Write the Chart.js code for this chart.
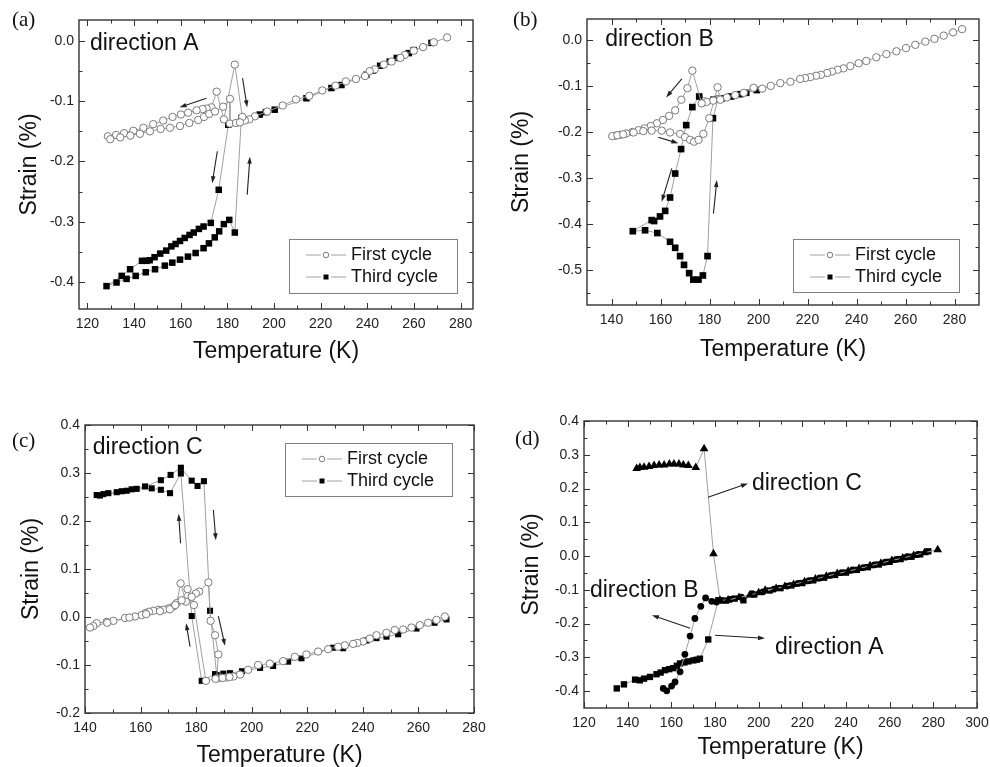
<!DOCTYPE html>
<html>
<head>
<meta charset="utf-8">
<script src="https://cdn.jsdelivr.net/npm/chart.js@4.4.0/dist/chart.umd.min.js"></script>
<style>
  html, body { margin: 0; padding: 0; background: #fff; }
  body { width: 990px; height: 767px; position: relative; overflow: hidden; }
  canvas { position: absolute; }
  .tag { position: absolute; font: 21px "Liberation Serif", "Times New Roman", serif; line-height: 1; color: #111; }
</style>
</head>
<body>
<canvas id="chartA" width="490" height="370" style="left:0;top:0"></canvas>
<canvas id="chartB" width="495" height="370" style="left:495px;top:0"></canvas>
<canvas id="chartC" width="490" height="387" style="left:0;top:380px"></canvas>
<canvas id="chartD" width="495" height="387" style="left:495px;top:380px"></canvas>
<div class="tag" style="left:12px;top:9px">(a)</div>
<div class="tag" style="left:513px;top:9px">(b)</div>
<div class="tag" style="left:12px;top:430px">(c)</div>
<div class="tag" style="left:515px;top:428px">(d)</div>
<script>
// ---- (a) direction A ----
const tempA1 = [274.2, 268.5, 263.9, 259.9, 256.1, 254.2, 250.4, 247.1, 243.2, 241.0,
  239.0, 235.1, 230.8, 226.4, 220.7, 215.1, 209.4, 203.7, 197.1, 191.8,
  189.4, 187.5, 186.4, 183.2, 178.5, 175.4, 173.2, 171.1, 169.4, 166.8,
  163.2, 160.1, 156.5, 152.5, 148.2, 144.0, 139.7, 135.7, 132.3, 128.8,
  129.8, 134.1, 138.4, 142.5, 146.8, 151.4, 155.4, 159.7, 163.7, 167.5,
  170.0, 172.2, 174.7, 178.2, 181.1, 181.1, 183.7, 185.4];
const strainA1 = [0.006, -0.002, -0.010, -0.016, -0.023, -0.028, -0.034, -0.039, -0.047, -0.050,
  -0.058, -0.063, -0.067, -0.074, -0.082, -0.091, -0.097, -0.107, -0.117, -0.125,
  -0.130, -0.132, -0.126, -0.039, -0.130, -0.084, -0.110, -0.112, -0.113, -0.115,
  -0.119, -0.122, -0.126, -0.132, -0.138, -0.144, -0.149, -0.153, -0.156, -0.158,
  -0.163, -0.160, -0.157, -0.154, -0.150, -0.146, -0.144, -0.141, -0.136, -0.131,
  -0.126, -0.121, -0.117, -0.109, -0.096, -0.137, -0.136, -0.135];
const tempA3 = [267.5, 259.9, 257.8, 252.6, 249.6, 245.5, 242.4, 239.6, 228.9, 224.6,
  213.9, 200.3, 196.5, 193.9, 180.4, 176.3, 172.9, 169.8, 167.8, 165.6,
  163.8, 161.7, 159.7, 157.8, 156.0, 153.8, 151.2, 148.8, 146.7, 145.3,
  143.4, 138.3, 134.7, 128.2, 132.5, 136.8, 140.7, 145.0, 149.0, 153.2,
  156.4, 159.7, 163.1, 166.4, 169.8, 172.1, 174.6, 176.5, 178.5, 180.8,
  183.2, 186.0];
const strainA3 = [-0.003, -0.015, -0.020, -0.028, -0.034, -0.041, -0.049, -0.056, -0.073, -0.078,
  -0.095, -0.114, -0.118, -0.122, -0.139, -0.247, -0.302, -0.308, -0.312, -0.318,
  -0.322, -0.327, -0.332, -0.337, -0.341, -0.348, -0.353, -0.359, -0.364, -0.365,
  -0.365, -0.379, -0.390, -0.407, -0.401, -0.395, -0.390, -0.384, -0.379, -0.373,
  -0.368, -0.363, -0.358, -0.352, -0.344, -0.336, -0.326, -0.316, -0.304, -0.297,
  -0.318, -0.128];

// ---- (b) direction B ----
const tempB1 = [283.1, 279.4, 275.6, 271.8, 268.1, 264.0, 260.2, 256.3, 252.2, 248.1,
  244.0, 240.9, 237.5, 234.7, 232.3, 230.0, 228.0, 225.5, 223.5, 221.1,
  219.0, 217.0, 213.0, 208.9, 205.0, 201.5, 198.0, 194.0, 190.5, 187.1,
  184.0, 181.5, 178.8, 176.8, 173.0, 171.0, 168.5, 166.0, 163.5, 161.0,
  158.5, 156.0, 153.5, 151.0, 148.5, 146.0, 143.5, 141.5, 140.3, 142.4,
  144.8, 149.0, 153.0, 156.4, 160.5, 163.9, 168.0, 170.0, 172.1, 173.7,
  175.5, 177.5, 179.9, 183.3, 184.4];
const strainB1 = [0.023, 0.016, 0.009, 0.002, -0.004, -0.011, -0.018, -0.025, -0.031, -0.038,
  -0.046, -0.051, -0.057, -0.062, -0.065, -0.069, -0.072, -0.076, -0.078, -0.081,
  -0.083, -0.085, -0.091, -0.094, -0.100, -0.106, -0.104, -0.115, -0.120, -0.125,
  -0.128, -0.132, -0.135, -0.138, -0.067, -0.105, -0.130, -0.153, -0.165, -0.174,
  -0.181, -0.187, -0.192, -0.196, -0.200, -0.203, -0.206, -0.208, -0.209, -0.207,
  -0.205, -0.201, -0.198, -0.197, -0.197, -0.201, -0.204, -0.211, -0.217, -0.221,
  -0.217, -0.204, -0.170, -0.103, -0.130];
const tempB3 = [199.3, 195.0, 192.5, 188.8, 185.0, 181.6, 175.8, 173.0, 170.5, 168.4,
  166.0, 163.9, 161.9, 159.8, 157.4, 156.4, 148.7, 153.7, 158.7, 163.9,
  166.0, 168.0, 169.6, 171.7, 173.4, 175.5, 177.3, 179.2, 181.4, 183.5];
const strainB3 = [-0.109, -0.115, -0.118, -0.123, -0.127, -0.130, -0.123, -0.146, -0.185, -0.237,
  -0.290, -0.342, -0.371, -0.383, -0.393, -0.391, -0.415, -0.413, -0.419, -0.438,
  -0.451, -0.469, -0.488, -0.506, -0.520, -0.520, -0.511, -0.469, -0.170, -0.128];

// ---- (c) direction C ----
const tempC1 = [269.5, 266.5, 263.5, 260.5, 257.5, 254.5, 251.5, 248.5, 244.9, 242.5,
  240.1, 238.0, 236.5, 233.5, 231.1, 227.5, 223.9, 219.7, 215.5, 211.3,
  206.5, 202.3, 198.7, 195.8, 193.4, 191.0, 189.0, 187.4, 188.0, 186.8,
  185.2, 184.4, 181.1, 179.9, 178.4, 176.3, 174.4, 173.0, 171.8, 170.0,
  168.2, 166.4, 164.6, 163.0, 161.7, 160.4, 158.0, 154.4, 150.2, 147.8,
  144.2, 143.0, 141.8, 148.0, 156.0, 162.0, 167.0, 170.5, 172.5, 174.8,
  176.9, 179.2, 183.5, 187.0, 189.5, 192.0];
const strainC1 = [0.001, -0.006, -0.012, -0.017, -0.022, -0.026, -0.027, -0.033, -0.038, -0.045,
  -0.051, -0.054, -0.056, -0.059, -0.062, -0.067, -0.072, -0.078, -0.083, -0.092,
  -0.097, -0.100, -0.110, -0.120, -0.124, -0.126, -0.127, -0.128, -0.078, -0.038,
  -0.008, 0.072, 0.053, 0.049, 0.042, 0.032, 0.070, 0.029, 0.022, 0.018,
  0.015, 0.015, 0.013, 0.011, 0.008, 0.004, 0.001, -0.002, -0.008, -0.010,
  -0.013, -0.019, -0.022, -0.012, -0.001, 0.006, 0.012, 0.016, 0.025, 0.035,
  0.058, 0.025, -0.133, -0.129, -0.127, -0.125];
const tempC3 = [270.1, 265.8, 259.3, 252.7, 248.5, 244.9, 241.3, 237.1, 232.9, 229.3,
  217.9, 213.1, 207.7, 203.0, 196.5, 192.2, 189.8, 187.4, 185.0, 182.8,
  180.5, 178.4, 174.5, 170.8, 167.3, 161.6, 158.6, 155.0, 151.4, 148.4,
  146.6, 144.2, 145.4, 153.2, 156.8, 164.0, 167.3, 170.6, 174.5, 178.4,
  182.0, 186.8];
const strainC3 = [-0.005, -0.012, -0.024, -0.036, -0.041, -0.044, -0.049, -0.055, -0.065, -0.064,
  -0.086, -0.093, -0.102, -0.106, -0.113, -0.117, -0.118, -0.121, 0.013, 0.283,
  0.273, 0.284, 0.311, 0.296, 0.285, 0.272, 0.267, 0.263, 0.260, 0.258,
  0.256, 0.254, 0.253, 0.262, 0.266, 0.268, 0.265, 0.258, 0.299, 0.002,
  -0.133, -0.119];

// ---- (d) all three directions ----
const tempDC = [144.1, 145.6, 147.5, 149.8, 152.1, 154.4, 156.7, 159.1, 161.2, 163.5,
  165.5, 167.8, 171.2, 175.0, 179.3, 182.3, 186, 191, 196, 200,
  203, 208, 212, 216, 221, 226, 231, 236, 241, 246,
  251, 256, 261, 266, 271, 276, 282];
const strainDC = [0.259, 0.262, 0.263, 0.265, 0.268, 0.270, 0.270, 0.273, 0.273, 0.273,
  0.270, 0.268, 0.262, 0.318, 0.007, -0.131, -0.130, -0.123, -0.115, -0.109,
  -0.101, -0.096, -0.090, -0.084, -0.076, -0.068, -0.060, -0.052, -0.045, -0.037,
  -0.029, -0.021, -0.013, -0.006, 0.002, 0.010, 0.019];
const tempDB = [156.3, 157.9, 160.1, 161.7, 164.0, 166.2, 168.6, 170.8, 173.5, 175.7,
  178.5, 180.7, 183, 187, 192, 197, 202, 207, 213, 218,
  223, 228, 233, 238, 243, 248, 253, 258, 263, 268, 273];
const strainDB = [-0.392, -0.399, -0.385, -0.373, -0.343, -0.291, -0.237, -0.185, -0.149, -0.124,
  -0.134, -0.136, -0.131, -0.128, -0.122, -0.111, -0.106, -0.098, -0.089, -0.081,
  -0.073, -0.065, -0.057, -0.049, -0.041, -0.034, -0.026, -0.018, -0.010, -0.002, 0.005];
const tempDA = [135.0, 138.3, 143.4, 145.6, 147.5, 150.2, 153.2, 155.1, 157.1, 159.0,
  160.9, 162.5, 164.0, 166.0, 167.8, 170.1, 171.6, 173.1, 176.9, 181.5,
  185, 189, 193, 198, 205, 210, 215, 220, 225, 230,
  235, 240, 245, 250, 255, 260, 265, 270, 274, 277.7];
const strainDA = [-0.392, -0.380, -0.366, -0.368, -0.363, -0.358, -0.350, -0.345, -0.338, -0.335,
  -0.332, -0.325, -0.318, -0.315, -0.312, -0.309, -0.307, -0.304, -0.247, -0.131,
  -0.132, -0.126, -0.131, -0.114, -0.102, -0.095, -0.087, -0.080, -0.072, -0.064,
  -0.056, -0.049, -0.041, -0.033, -0.025, -0.017, -0.009, -0.002, 0.005, 0.014];

// tick labels
const tempTicksA = [120, 140, 160, 180, 200, 220, 240, 260, 280];
const strainTicksA = [0, -0.1, -0.2, -0.3, -0.4];
const tempTicksB = [140, 160, 180, 200, 220, 240, 260, 280];
const strainTicksB = [0, -0.1, -0.2, -0.3, -0.4, -0.5];
const tempTicksC = [140, 160, 180, 200, 220, 240, 260, 280];
const strainTicksC = [0.4, 0.3, 0.2, 0.1, 0, -0.1, -0.2];
const tempTicksD = [120, 140, 160, 180, 200, 220, 240, 260, 280, 300];
const strainTicksD = [0.4, 0.3, 0.2, 0.1, 0, -0.1, -0.2, -0.3, -0.4];

Chart.defaults.font.family = '"Liberation Sans", Arial, sans-serif';
const FONT = '"Liberation Sans", Arial, sans-serif';

function series(label, temps, strains, style) {
    return {
        label,
        data: temps.map((t, i) => ({ x: t, y: strains[i] })),
        showLine: true,
        borderColor: "#a0a0a0",
        borderWidth: 1,
        tension: 0,
        ...style
    };
}

const openCircle = { pointStyle: "circle", pointRadius: 3.7, pointBackgroundColor: "#fff", pointBorderColor: "#7a7a7a", pointBorderWidth: 1 };
const blackSquare = (r) => ({ pointStyle: "rect", pointRadius: r, pointBackgroundColor: "#000", pointBorderColor: "#000", pointBorderWidth: 0 });
const blackCircle = { pointStyle: "circle", pointRadius: 3.4, pointBackgroundColor: "#000", pointBorderColor: "#000", pointBorderWidth: 0 };
const blackTriangle = { pointStyle: "triangle", pointRadius: 5, pointBackgroundColor: "#000", pointBorderColor: "#000", pointBorderWidth: 0 };

// frame, inward ticks, arrows, notes and boxed legend
const decor = {
    id: "decor",
    afterDraw(chart, args, o) {
        const { ctx, chartArea: a, scales: { x, y } } = chart;
        ctx.save();
        ctx.strokeStyle = "#333";
        ctx.lineWidth = 1.4;
        ctx.strokeRect(a.left, a.top, a.right - a.left, a.bottom - a.top);

        ctx.lineWidth = 1;
        [[x, true], [y, false]].forEach(([scale, horiz]) => {
            const major = scale.ticks.map(t => t.value);
            const step = major[1] - major[0];
            const lo = Math.min(scale.min, scale.max), hi = Math.max(scale.min, scale.max);
            const minor = [major[0] - step / 2, ...major.map(v => v + step / 2)]
                .filter(v => v > lo + 1e-9 && v < hi - 1e-9);
            const marks = major.map(v => [v, 6]).concat(minor.map(v => [v, 3.5]));
            ctx.beginPath();
            marks.forEach(([v, len]) => {
                const p = Math.round(scale.getPixelForValue(v)) + 0.5;
                if (horiz) {
                    ctx.moveTo(p, a.bottom); ctx.lineTo(p, a.bottom - len);
                    ctx.moveTo(p, a.top); ctx.lineTo(p, a.top + len);
                } else {
                    ctx.moveTo(a.left, p); ctx.lineTo(a.left + len, p);
                    ctx.moveTo(a.right, p); ctx.lineTo(a.right - len, p);
                }
            });
            ctx.stroke();
        });

        ctx.strokeStyle = "#222";
        ctx.fillStyle = "#222";
        ctx.lineWidth = 1.1;
        (o.arrows || []).forEach(([t0, s0, t1, s1]) => {
            const x0 = x.getPixelForValue(t0), y0 = y.getPixelForValue(s0);
            const x1 = x.getPixelForValue(t1), y1 = y.getPixelForValue(s1);
            const ang = Math.atan2(y1 - y0, x1 - x0);
            const c = Math.cos(ang), s = Math.sin(ang);
            ctx.beginPath();
            ctx.moveTo(x0, y0);
            ctx.lineTo(x1 - 5 * c, y1 - 5 * s);
            ctx.stroke();
            ctx.beginPath();
            ctx.moveTo(x1, y1);
            ctx.lineTo(x1 - 7 * c - 2.3 * s, y1 - 7 * s + 2.3 * c);
            ctx.lineTo(x1 - 7 * c + 2.3 * s, y1 - 7 * s - 2.3 * c);
            ctx.closePath();
            ctx.fill();
        });

        ctx.fillStyle = "#111";
        ctx.font = "23px " + FONT;
        ctx.textAlign = "left";
        ctx.textBaseline = "middle";
        (o.notes || []).forEach(n => {
            ctx.fillText(n.text, x.getPixelForValue(n.t), y.getPixelForValue(n.s));
        });

        const L = o.legend;
        if (L) {
            ctx.strokeStyle = "#808080";
            ctx.lineWidth = 1;
            ctx.strokeRect(L.x + 0.5, L.y + 0.5, L.w, L.h);
            ctx.font = "18px " + FONT;
            chart.data.datasets.forEach((ds, i) => {
                const ry = L.y + 16 + i * 22;
                const mx = L.x + 37;
                ctx.strokeStyle = "#a0a0a0";
                ctx.beginPath();
                ctx.moveTo(L.x + 17, ry); ctx.lineTo(mx - 5, ry);
                ctx.moveTo(mx + 5, ry); ctx.lineTo(L.x + 57, ry);
                ctx.stroke();
                if (ds.pointStyle === "rect") {
                    ctx.fillStyle = "#000";
                    ctx.fillRect(mx - 2.5, ry - 2.5, 5, 5);
                } else {
                    ctx.fillStyle = "#fff";
                    ctx.strokeStyle = "#7a7a7a";
                    ctx.beginPath();
                    ctx.arc(mx, ry, 2.8, 0, 2 * Math.PI);
                    ctx.fill();
                    ctx.stroke();
                }
                ctx.fillStyle = "#111";
                ctx.fillText(ds.label, L.x + 62, ry);
            });
        }
        ctx.restore();
    }
};

function strainChart(id, datasets, ax, extras) {
    const ctx = document.getElementById(id).getContext("2d");
    return new Chart(ctx, {
        type: "scatter",
        data: { datasets },
        options: {
            responsive: false,
            animation: false,
            events: [],
            layout: { padding: ax.pad },
            plugins: { legend: { display: false }, tooltip: { enabled: false }, decor: extras },
            scales: {
                x: {
                    type: "linear",
                    min: ax.xMin,
                    max: ax.xMax,
                    afterBuildTicks: s => { s.ticks = ax.xTicks.map(v => ({ value: v })); },
                    // fixed height, and no extra room for edge labels
                    afterFit: s => { s.height = ax.xH; s.paddingLeft = 0; s.paddingRight = 0; },
                    grid: { display: false, drawTicks: false },
                    border: { display: false },
                    ticks: { padding: 7, color: "#222", font: { size: 14 }, autoSkip: false, maxRotation: 0, callback: v => String(v) },
                    title: { display: true, text: "Temperature (K)", color: "#111", font: { size: 23, lineHeight: 1 }, padding: { top: 0, bottom: ax.xtPad } }
                },
                y: {
                    type: "linear",
                    min: ax.yMin,
                    max: ax.yMax,
                    afterBuildTicks: s => { s.ticks = ax.yTicks.map(v => ({ value: v })); },
                    afterFit: s => { s.width = ax.yW; s.paddingTop = 0; s.paddingBottom = 0; },
                    grid: { display: false, drawTicks: false },
                    border: { display: false },
                    ticks: { padding: 5, color: "#222", font: { size: 14 }, autoSkip: false, callback: v => v.toFixed(1) },
                    title: { display: true, text: "Strain (%)", color: "#111", font: { size: 23, lineHeight: 1 }, padding: { top: ax.ytPad, bottom: 0 } }
                }
            }
        },
        plugins: [decor]
    });
}

strainChart("chartA", [
    series("First cycle", tempA1, strainA1, openCircle),
    series("Third cycle", tempA3, strainA3, blackSquare(4.6))
], {
    xMin: 116.4, xMax: 285.3, yMin: -0.445, yMax: 0.035,
    xTicks: tempTicksA, yTicks: strainTicksA,
    pad: { left: 0, top: 20, right: 17, bottom: 0 }, yW: 79, xH: 61, ytPad: 18.5, xtPad: 6.5
}, {
    notes: [{ text: "direction A", t: 121.1, s: -0.0045 }],
    arrows: [[171, -0.095, 159.5, -0.11], [186.5, -0.0615, 188.5, -0.11], [175.7, -0.183, 173.5, -0.236], [188.5, -0.255, 189.7, -0.192]],
    legend: { x: 289, y: 239, w: 168, h: 54 }
});

strainChart("chartB", [
    series("First cycle", tempB1, strainB1, openCircle),
    series("Third cycle", tempB3, strainB3, blackSquare(4.7))
], {
    xMin: 130, xMax: 290, yMin: -0.575, yMax: 0.045,
    xTicks: tempTicksB, yTicks: strainTicksB,
    pad: { left: 0, top: 19, right: 11, bottom: 0 }, yW: 92, xH: 65, ytPad: 15.5, xtPad: 8.5
}, {
    notes: [{ text: "direction B", t: 137.4, s: 0.0 }],
    arrows: [[168.7, -0.085, 162.3, -0.125], [159.1, -0.2115, 167.3, -0.2245], [164.6, -0.279, 160.5, -0.351], [181.6, -0.377, 183, -0.304]],
    legend: { x: 298, y: 239, w: 166, h: 53 }
});

strainChart("chartC", [
    series("First cycle", tempC1, strainC1, openCircle),
    series("Third cycle", tempC3, strainC3, blackSquare(4.3))
], {
    xMin: 140, xMax: 280, yMin: -0.2, yMax: 0.4,
    xTicks: tempTicksC, yTicks: strainTicksC,
    pad: { left: 0, top: 45, right: 16, bottom: 0 }, yW: 85, xH: 54, ytPad: 20.5, xtPad: 0
}, {
    notes: [{ text: "direction C", t: 142.8, s: 0.3535 }],
    arrows: [[174.4, 0.1535, 173.7, 0.215], [186.2, 0.223, 187.1, 0.16], [177.8, -0.062, 176.4, -0.013], [188, 0.002, 190.4, -0.06]],
    legend: { x: 285, y: 63, w: 167, h: 53 }
});

strainChart("chartD", [
    series("direction C", tempDC, strainDC, blackTriangle),
    series("direction B", tempDB, strainDB, blackCircle),
    series("direction A", tempDA, strainDA, blackSquare(4.5))
], {
    xMin: 120, xMax: 300, yMin: -0.45, yMax: 0.4,
    xTicks: tempTicksD, yTicks: strainTicksD,
    pad: { left: 0, top: 41, right: 13, bottom: 0 }, yW: 89, xH: 59, ytPad: 25.5, xtPad: 7.5
}, {
    notes: [
        { text: "direction C", t: 196.9, s: 0.215 },
        { text: "direction B", t: 122.7, s: -0.1015 },
        { text: "direction A", t: 207.5, s: -0.27 }
    ],
    arrows: [[176.8, 0.174, 195.1, 0.215], [168.6, -0.214, 151.1, -0.175], [180, -0.2346, 202.9, -0.2435]]
});
</script>
</body>
</html>
